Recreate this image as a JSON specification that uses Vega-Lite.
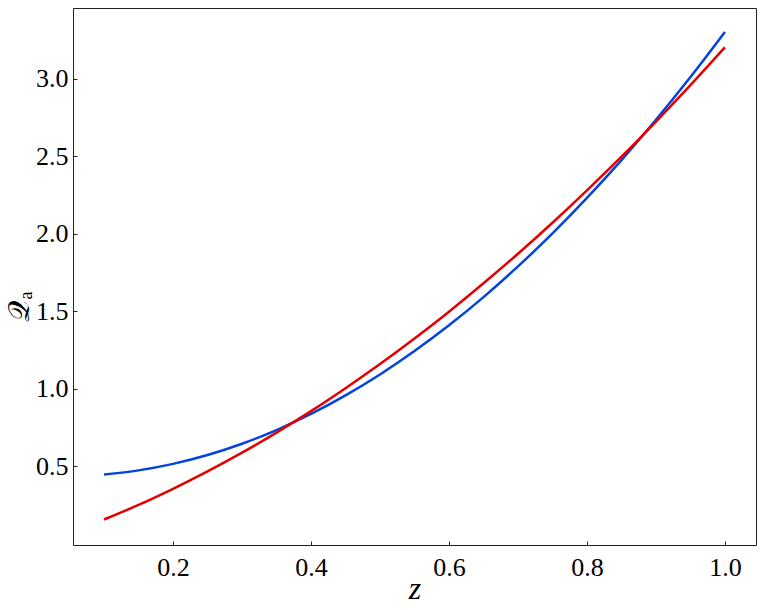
{
  "$schema": "https://vega.github.io/schema/vega-lite/v6.json",
  "width": 683,
  "height": 537,
  "autosize": "none",
  "padding": {"left": 73, "top": 8, "right": 7, "bottom": 65},
  "background": "white",
  "config": {
    "view": {"stroke": "#222222", "strokeWidth": 1},
    "axis": {
      "labelFont": "Times New Roman, Liberation Serif, serif",
      "labelFontSize": 26,
      "labelColor": "#000000",
      "titleFont": "Times New Roman, Liberation Serif, serif",
      "titleColor": "#000000",
      "titleFontWeight": "normal",
      "grid": false,
      "domain": false,
      "tickColor": "#222222",
      "tickSize": -4,
      "tickWidth": 1
    }
  },
  "data": {
    "values": [
      {"z": 0.10, "Q": 0.448, "s": "blue"},
      {"z": 0.15, "Q": 0.474, "s": "blue"},
      {"z": 0.20, "Q": 0.516, "s": "blue"},
      {"z": 0.25, "Q": 0.573, "s": "blue"},
      {"z": 0.30, "Q": 0.646, "s": "blue"},
      {"z": 0.35, "Q": 0.734, "s": "blue"},
      {"z": 0.40, "Q": 0.838, "s": "blue"},
      {"z": 0.45, "Q": 0.958, "s": "blue"},
      {"z": 0.50, "Q": 1.093, "s": "blue"},
      {"z": 0.55, "Q": 1.244, "s": "blue"},
      {"z": 0.60, "Q": 1.410, "s": "blue"},
      {"z": 0.65, "Q": 1.592, "s": "blue"},
      {"z": 0.70, "Q": 1.790, "s": "blue"},
      {"z": 0.75, "Q": 2.003, "s": "blue"},
      {"z": 0.80, "Q": 2.232, "s": "blue"},
      {"z": 0.85, "Q": 2.476, "s": "blue"},
      {"z": 0.90, "Q": 2.736, "s": "blue"},
      {"z": 0.95, "Q": 3.012, "s": "blue"},
      {"z": 1.00, "Q": 3.303, "s": "blue"},
      {"z": 0.10, "Q": 0.157, "s": "red"},
      {"z": 0.15, "Q": 0.251, "s": "red"},
      {"z": 0.20, "Q": 0.355, "s": "red"},
      {"z": 0.25, "Q": 0.467, "s": "red"},
      {"z": 0.30, "Q": 0.588, "s": "red"},
      {"z": 0.35, "Q": 0.718, "s": "red"},
      {"z": 0.40, "Q": 0.856, "s": "red"},
      {"z": 0.45, "Q": 1.004, "s": "red"},
      {"z": 0.50, "Q": 1.160, "s": "red"},
      {"z": 0.55, "Q": 1.325, "s": "red"},
      {"z": 0.60, "Q": 1.498, "s": "red"},
      {"z": 0.65, "Q": 1.681, "s": "red"},
      {"z": 0.70, "Q": 1.872, "s": "red"},
      {"z": 0.75, "Q": 2.072, "s": "red"},
      {"z": 0.80, "Q": 2.281, "s": "red"},
      {"z": 0.85, "Q": 2.498, "s": "red"},
      {"z": 0.90, "Q": 2.725, "s": "red"},
      {"z": 0.95, "Q": 2.960, "s": "red"},
      {"z": 1.00, "Q": 3.204, "s": "red"}
    ]
  },
  "mark": {"type": "line", "strokeWidth": 2.5, "interpolate": "monotone"},
  "encoding": {
    "x": {
      "field": "z",
      "type": "quantitative",
      "scale": {"domain": [0.055, 1.045], "nice": false, "zero": false},
      "axis": {
        "values": [0.2, 0.4, 0.6, 0.8, 1.0],
        "format": ".1f",
        "title": "z",
        "titleFontStyle": "italic",
        "titleFontSize": 32,
        "labelPadding": 13,
        "titlePadding": -7
      }
    },
    "y": {
      "field": "Q",
      "type": "quantitative",
      "scale": {"domain": [-0.0075, 3.4575], "nice": false, "zero": false},
      "axis": {
        "values": [0.5, 1.0, 1.5, 2.0, 2.5, 3.0],
        "format": ".1f",
        "title": "𝒬ₐ",
        "titleFontSize": 30,
        "titleX": -54,
        "titleY": 298,
        "titleAngle": -90,
        "titleAlign": "center",
        "titleBaseline": "middle",
        "labelPadding": 9
      }
    },
    "color": {
      "field": "s",
      "type": "nominal",
      "scale": {"domain": ["blue", "red"], "range": ["#0343df", "#e50000"]},
      "legend": null
    }
  }
}
